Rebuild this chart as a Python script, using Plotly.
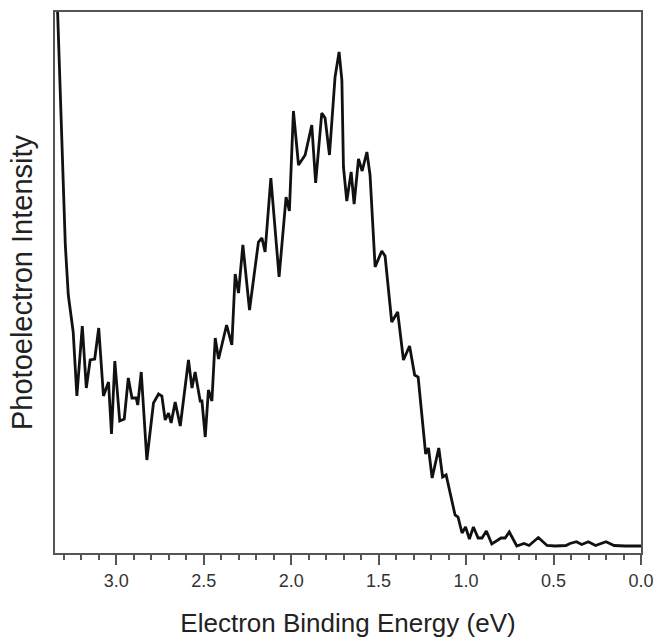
import plotly.graph_objects as go

# Electron binding energy (eV)
energy_ev = [3.343, 3.335, 3.320, 3.303, 3.291, 3.274, 3.246, 3.225, 3.194, 3.171,
             3.149, 3.123, 3.100, 3.073, 3.044, 3.027, 3.008, 2.980, 2.954, 2.931,
             2.910, 2.886, 2.877, 2.857, 2.825, 2.787, 2.758, 2.739, 2.720, 2.701,
             2.686, 2.663, 2.634, 2.587, 2.567, 2.549, 2.520, 2.510, 2.491, 2.473,
             2.453, 2.434, 2.415, 2.369, 2.339, 2.320, 2.301, 2.276, 2.238, 2.187,
             2.167, 2.149, 2.116, 2.069, 2.029, 2.010, 1.987, 1.958, 1.920, 1.882,
             1.860, 1.825, 1.806, 1.781, 1.749, 1.726, 1.710, 1.701, 1.682, 1.657,
             1.640, 1.615, 1.594, 1.567, 1.549, 1.520, 1.482, 1.463, 1.425, 1.391,
             1.358, 1.323, 1.294, 1.274, 1.231, 1.215, 1.194, 1.156, 1.134, 1.114,
             1.063, 1.046, 1.023, 1.003, 0.981, 0.958, 0.931, 0.909, 0.884, 0.853,
             0.800, 0.777, 0.753, 0.710, 0.669, 0.640, 0.587, 0.537, 0.491, 0.429,
             0.406, 0.369, 0.339, 0.301, 0.260, 0.200, 0.154, 0.091, 0.000]

# Photoelectron intensity (arbitrary units)
intensity = [583, 541, 453, 373, 308, 258, 221, 157, 227, 165,
             193, 194, 225, 157, 171, 119, 192, 132, 134, 175,
             155, 155, 148, 181, 93, 150, 159, 157, 133, 140,
             130, 151, 127, 193, 165, 181, 152, 152, 116, 163,
             152, 215, 194, 228, 208, 279, 260, 308, 243, 311,
             315, 301, 375, 276, 356, 342, 442, 388, 398, 428,
             370, 440, 435, 398, 476, 501, 473, 386, 352, 381,
             349, 394, 382, 401, 378, 286, 302, 297, 231, 241,
             193, 207, 178, 176, 99, 105, 75, 105, 76, 78,
             38, 36, 20, 26, 14, 26, 15, 15, 22, 9,
             15, 15, 21, 7, 9.5, 7.5, 15.5, 7.5, 7, 7.5,
             9.5, 11.3, 8.5, 11.3, 7.5, 11.3, 7.5, 7, 7]

tick_vals = [3.0, 2.5, 2.0, 1.5, 1.0, 0.5, 0.0]
tick_text = ["3.0", "2.5", "2.0", "1.5", "1.0", "0.5", "0.0"]

font_family = "Liberation Sans, Arial, Helvetica, sans-serif"

fig = go.Figure()
fig.add_trace(go.Scatter(
    x=energy_ev, y=intensity, mode="lines",
    line=dict(color="#111111", width=2.8),
    showlegend=False,
))

fig.update_layout(
    width=657, height=640,
    margin=dict(l=55, r=16, t=12, b=87),
    paper_bgcolor="white", plot_bgcolor="white",
    font=dict(family=font_family, color="#222222"),
)

fig.update_xaxes(
    range=[3.35, 0.0], automargin=False,
    tickvals=tick_vals, ticktext=tick_text,
    ticks="outside", ticklen=10, tickwidth=2, tickcolor="#555555",
    minor=dict(dtick=0.1, tick0=0, ticks="outside", ticklen=5, tickwidth=2, tickcolor="#555555"),
    tickfont=dict(size=18, color="#333333"),
    showline=True, linecolor="#555555", linewidth=2, mirror=True,
    showgrid=False, zeroline=False,
    title=dict(text="Electron Binding Energy (eV)", font=dict(size=26, color="#222222"), standoff=24),
)

fig.update_yaxes(
    range=[0, 541], automargin=False,
    showticklabels=False, ticks="",
    showline=True, linecolor="#555555", linewidth=2, mirror=True,
    showgrid=False, zeroline=False,
    title=dict(text="Photoelectron Intensity", font=dict(size=29, color="#222222"), standoff=12),
)

fig.write_html(
    "out.html",
    config={"displayModeBar": False},
    post_script="document.body.style.margin='0px';document.body.style.padding='0px';",
)
